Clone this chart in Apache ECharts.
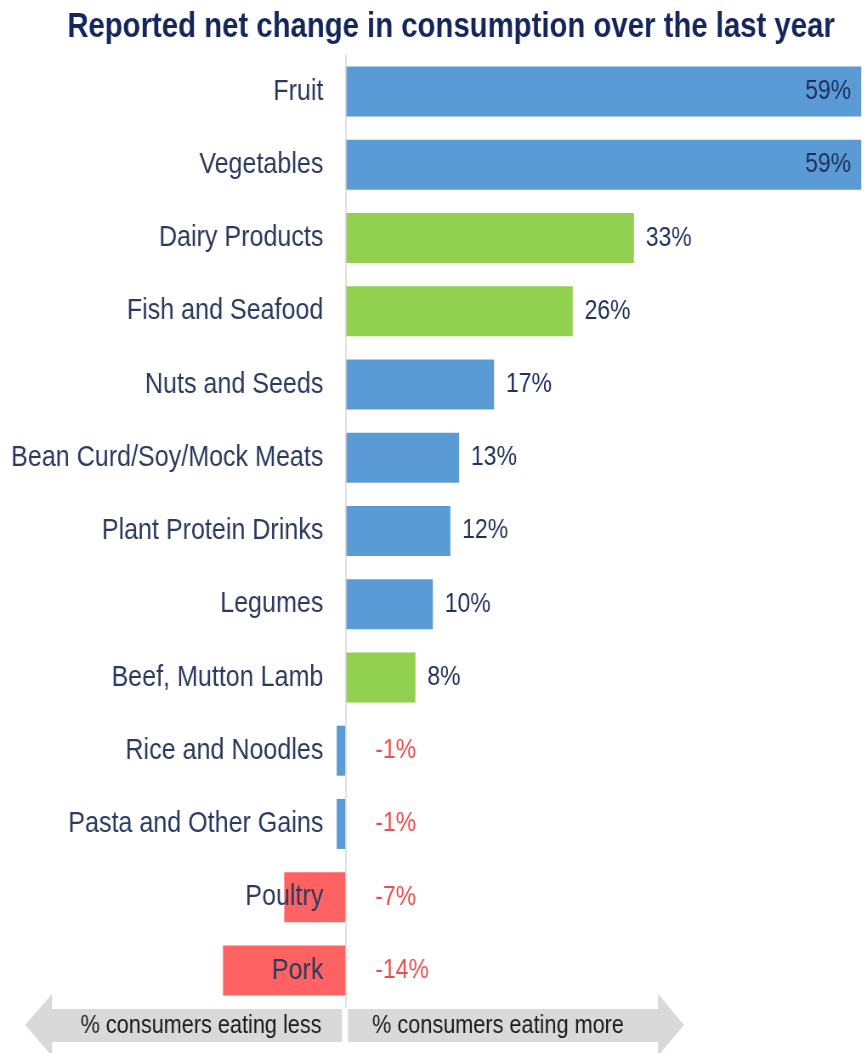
<!DOCTYPE html>
<html>
<head>
<meta charset="utf-8">
<script src="https://cdn.jsdelivr.net/npm/echarts@6/dist/echarts.min.js"></script>
<style>
  html, body { margin: 0; padding: 0; background: #ffffff; overflow: hidden; width: 865px; height: 1053px; }
  /* The chart is laid out on a wider canvas and squeezed horizontally for a condensed type look */
  #chart { width: 1018px; height: 1053px; transform: scaleX(0.85); transform-origin: 0 0; }
</style>
</head>
<body>
<div id="chart"></div>
<script>
// Food categories, top to bottom
const categories = [
  'Fruit', 'Vegetables', 'Dairy Products', 'Fish and Seafood', 'Nuts and Seeds',
  'Bean Curd/Soy/Mock Meats', 'Plant Protein Drinks', 'Legumes', 'Beef, Mutton Lamb',
  'Rice and Noodles', 'Pasta and Other Gains', 'Poultry', 'Pork'
];
// Net change in consumption (%)
const netChange = [59, 59, 33, 26, 17, 13, 12, 10, 8, -1, -1, -7, -14];
// Food group of each category
const groups = ['plant', 'plant', 'animal', 'animal', 'plant', 'plant', 'plant', 'plant',
                'animal', 'plant', 'plant', 'meat', 'meat'];
const sideLabels = ['% consumers eating less', '% consumers eating more'];
const titleText = 'Reported net change in consumption over the last year';

const FONT = '"Liberation Sans", Arial, sans-serif';
const groupColors = { plant: '#5B9BD5', animal: '#92D050', meat: '#FF6262' };
const xMin = -14, xMax = 59;

// Canvas geometry (before the horizontal squeeze)
const W = 1018;
const gridLeft = 262.4, gridRight = 4.8;
const zeroX = gridLeft + (0 - xMin) / (xMax - xMin) * (W - gridLeft - gridRight);

const barData = netChange.map((v, i) => {
  const item = { value: v, itemStyle: { color: groupColors[groups[i]] } };
  if (v < 0) {
    item.label = { show: false };
  } else if (v / xMax > 0.9) {
    item.label = { position: 'insideRight', distance: 12 };
  }
  return item;
});

// Labels for the declines sit just right of the zero line
const declineLabels = netChange
  .map((v, i) => (v < 0 ? [0, categories[i], v] : null))
  .filter(d => d !== null);

const chart = echarts.init(document.getElementById('chart'), null, { renderer: 'canvas', width: W, height: 1053 });

chart.setOption({
  backgroundColor: '#ffffff',
  animation: false,
  textStyle: { fontFamily: FONT },
  grid: { left: gridLeft, right: gridRight, top: 55, bottom: 46, containLabel: false, outerBoundsMode: 'none' },
  xAxis: {
    type: 'value', min: xMin, max: xMax, show: false
  },
  yAxis: {
    type: 'category',
    data: categories,
    inverse: true,
    z: 10,
    axisLine: { show: true, onZero: true, lineStyle: { color: '#d9d9d9', width: 1.5 } },
    axisTick: { show: false },
    axisLabel: {
      // category names end just left of the zero line
      margin: -(zeroX - 26 - gridLeft),
      fontSize: 29.5, color: '#2B3A5E', fontFamily: FONT
    }
  },
  series: [
    {
      type: 'bar',
      data: barData,
      barWidth: 50,
      z: 2,
      label: {
        show: true,
        position: 'right',
        distance: 14,
        fontSize: 27,
        color: '#1F2F5F',
        fontFamily: FONT,
        formatter: p => p.value + '%'
      }
    },
    {
      type: 'scatter',
      data: declineLabels,
      symbolSize: 0,
      silent: true,
      z: 5,
      label: {
        show: true,
        position: 'right',
        distance: 35,
        fontSize: 27,
        color: '#E52222',
        fontFamily: FONT,
        formatter: p => p.value[2] + '%'
      }
    }
  ],
  graphic: [
    {
      type: 'text', x: 530.6, y: 27, z: 10,
      style: {
        text: titleText, fill: '#14275C', font: 'bold 34.5px ' + FONT,
        align: 'center', verticalAlign: 'middle'
      }
    },
    {
      type: 'polygon', z: 1,
      shape: { points: [[29.4, 1025], [61.2, 994], [61.2, 1009], [402.4, 1009], [402.4, 1042], [61.2, 1042], [61.2, 1056]] },
      style: { fill: '#D9D9D9' }
    },
    {
      type: 'polygon', z: 1,
      shape: { points: [[409.4, 1009], [774.1, 1009], [774.1, 994], [804.7, 1025], [774.1, 1056], [774.1, 1042], [409.4, 1042]] },
      style: { fill: '#D9D9D9' }
    },
    {
      type: 'text', x: 236.5, y: 1026, z: 3,
      style: { text: sideLabels[0], fill: '#1A1A1A', font: '25.5px ' + FONT, align: 'center', verticalAlign: 'middle' }
    },
    {
      type: 'text', x: 585.9, y: 1026, z: 3,
      style: { text: sideLabels[1], fill: '#1A1A1A', font: '25.5px ' + FONT, align: 'center', verticalAlign: 'middle' }
    }
  ]
});
</script>
</body>
</html>
